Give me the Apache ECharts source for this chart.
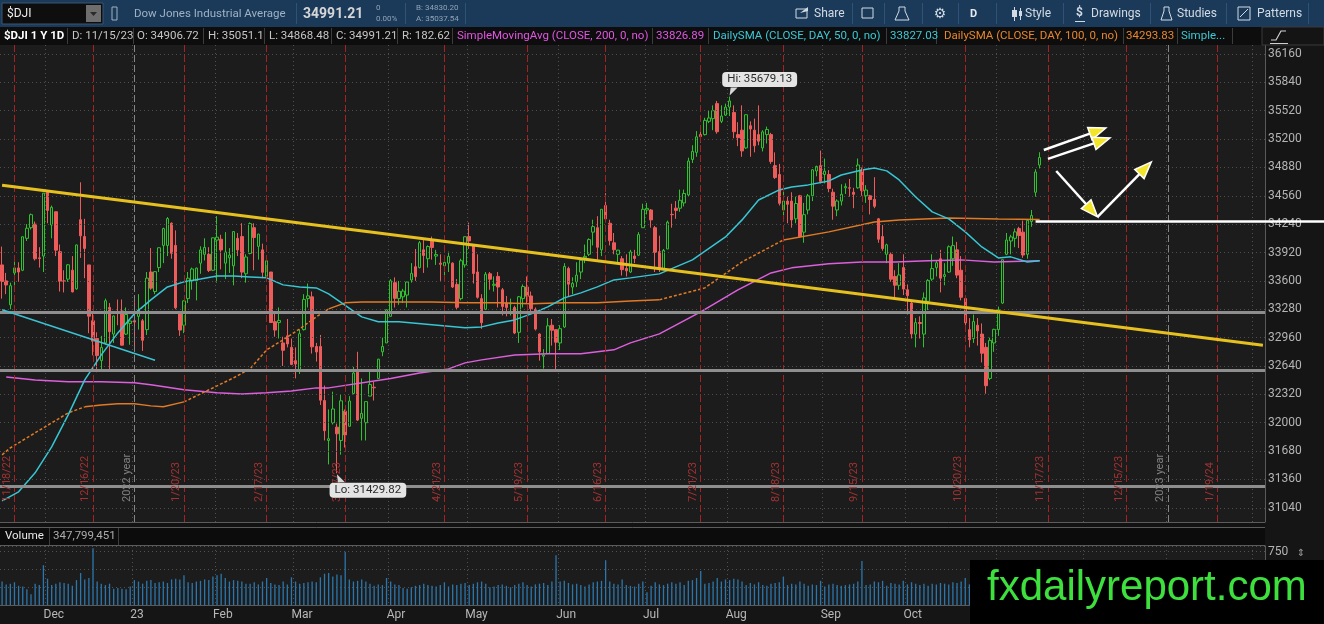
<!DOCTYPE html>
<html>
<head>
<meta charset="utf-8">
<title>$DJI 1 Y 1D</title>
<script src="https://cdn.jsdelivr.net/npm/echarts@6/dist/echarts.min.js"></script>
<style>
  html, body { margin: 0; padding: 0; background: #151515; }
  #chart { width: 1324px; height: 624px; }
</style>
</head>
<body>
<div id="chart"></div>
<script>
// ---- calendar ----
const holidays = ['11/24/22', '12/26/22', '1/2/23', '1/16/23', '2/20/23', '4/7/23', '5/29/23',
  '6/19/23', '7/4/23', '9/4/23', '11/23/23', '12/25/23', '1/1/24', '1/15/24'];
const MONTHS = ['Jan', 'Feb', 'Mar', 'Apr', 'May', 'Jun', 'Jul', 'Aug', 'Sep', 'Oct', 'Nov', 'Dec'];

// option expiration lines and year lines
const expirations = ['11/18/22', '12/16/22', '1/20/23', '2/17/23', '3/17/23', '4/21/23', '5/19/23',
  '6/16/23', '7/21/23', '8/18/23', '9/15/23', '10/20/23', '11/17/23', '12/15/23', '1/19/24'];
const yearLines = [['1/3/23', '2022 year'], ['1/2/24', '2023 year']];

// price axis labels
const priceTicks = [31040, 31360, 31680, 32000, 32320, 32640, 32960, 33280, 33600, 33920,
  34240, 34560, 34880, 35200, 35520, 35840, 36160];

// daily candles: [open, close, low, high]
const nov22 = [
  [33780, 33593, 33400, 33987], [33600, 33554, 33450, 33690], [33330, 33546, 33280, 33580],
  [33690, 33746, 33530, 33890], [33746, 33700, 33590, 33810], [33720, 34098, 33710, 34100],
  [34080, 34194, 34050, 34240], [34200, 34347, 34180, 34360], [34240, 33849, 33830, 34270],
  [33860, 33852, 33750, 33980], [33880, 34590, 33700, 34590]
];
const dec22 = [
  [34600, 34395, 34250, 34620], [34230, 34430, 34080, 34450], [34380, 33947, 33880, 34380],
  [33930, 33596, 33480, 34010], [33600, 33597, 33470, 33720], [33620, 33781, 33590, 33790],
  [33720, 33476, 33470, 33880], [33510, 34005, 33500, 34010], [34290, 34108, 33860, 34712],
  [34100, 33966, 33630, 34300], [33780, 33202, 33010, 33780], [33150, 32920, 32760, 33250],
  [32950, 32757, 32570, 33020], [32700, 32850, 32580, 32980], [32900, 33376, 32880, 33400],
  [33300, 33027, 32580, 33350], [33000, 33204, 32900, 33210], [33250, 33241, 33100, 33390],
  [33260, 32875, 32870, 33390], [33000, 33221, 32990, 33300], [33120, 33147, 32880, 33150]
];
const jan23 = [
  [33150, 33136, 32810, 33360], [33200, 33270, 33050, 33450], [33150, 32930, 32810, 33170],
  [33050, 33631, 32990, 33700], [33700, 33518, 33500, 33970], [33480, 33704, 33450, 33710],
  [33750, 33974, 33700, 33975], [34000, 34190, 33800, 34200], [34000, 34303, 33880, 34320],
  [34250, 33911, 33850, 34260], [34000, 33297, 33280, 34170], [33250, 33045, 32980, 33250],
  [33100, 33375, 33010, 33380], [33400, 33630, 33350, 33700], [33600, 33734, 33500, 33750],
  [33600, 33744, 33380, 33750], [33800, 33949, 33680, 33990], [33900, 33978, 33830, 34080],
  [33900, 33717, 33700, 33980], [33720, 34086, 33710, 34090]
];
const feb23 = [
  [34060, 34093, 33580, 34330], [34070, 33949, 33730, 34120], [33800, 33926, 33620, 34150],
  [33860, 33891, 33690, 33970], [33770, 34156, 33550, 34160], [34080, 33949, 33880, 34140],
  [34100, 33699, 33630, 34250], [33680, 33869, 33580, 33900], [33910, 34246, 33900, 34260],
  [34200, 34089, 33720, 34250], [33990, 34128, 33840, 34130], [33950, 33697, 33630, 34020],
  [33650, 33827, 33600, 33880], [33700, 33130, 33125, 33700], [33140, 33045, 32970, 33240],
  [33130, 33154, 32950, 33300], [32900, 32817, 32640, 32970], [32980, 32889, 32850, 33170],
  [32850, 32657, 32650, 32950]
];
const mar23 = [
  [32700, 32662, 32500, 32850], [32600, 33004, 32550, 33050], [33050, 33391, 33040, 33450],
  [33400, 33431, 33300, 33570], [33420, 32856, 32780, 33480], [32860, 32798, 32690, 32900],
  [32860, 32254, 32200, 32990], [32250, 31910, 31800, 32420], [31800, 31819, 31530, 32150],
  [32000, 32155, 31980, 32350], [31950, 31875, 31429.82, 31990], [31800, 32247, 31640, 32320],
  [32130, 31862, 31720, 32150], [31960, 32245, 31960, 32300], [32330, 32561, 32320, 32630],
  [32570, 32030, 32020, 32800], [32050, 32105, 31800, 32500], [32000, 32238, 31800, 32240],
  [32300, 32432, 32300, 32600], [32400, 32394, 32250, 32460], [32500, 32717, 32500, 32720],
  [32800, 32860, 32750, 32960], [32900, 33274, 32900, 33280]
];
const apr23 = [
  [33200, 33601, 33200, 33620], [33580, 33403, 33300, 33640], [33400, 33483, 33330, 33600],
  [33420, 33485, 33350, 33510], [33440, 33587, 33300, 33590], [33610, 33685, 33580, 33800],
  [33760, 33647, 33600, 33960], [33750, 34030, 33740, 34050], [33950, 33887, 33690, 34060],
  [33850, 33988, 33750, 34000], [34050, 33977, 33840, 34100], [33880, 33897, 33780, 33950],
  [33800, 33787, 33600, 33900], [33770, 33809, 33640, 33830], [33800, 33876, 33700, 33930],
  [33800, 33531, 33520, 33810], [33560, 33302, 33280, 33620], [33400, 33827, 33380, 33850],
  [33780, 34098, 33750, 34100]
];
const may23 = [
  [34100, 34051, 33960, 34257], [34000, 33684, 33570, 34010], [33700, 33415, 33400, 33900],
  [33400, 33128, 33060, 33450], [33280, 33675, 33270, 33700], [33680, 33619, 33500, 33700],
  [33550, 33562, 33480, 33650], [33650, 33531, 33300, 33700], [33500, 33310, 33210, 33520],
  [33350, 33301, 33200, 33430], [33340, 33349, 33210, 33400], [33300, 33012, 33000, 33320],
  [33020, 33421, 32900, 33430], [33400, 33536, 33300, 33560], [33530, 33427, 33340, 33650],
  [33430, 33287, 33260, 33480], [33280, 33056, 33040, 33300], [33000, 32800, 32700, 33010],
  [32750, 32765, 32610, 32830], [32780, 33093, 32780, 33180], [33100, 33043, 32870, 33170],
  [33050, 32908, 32600, 33050]
];
const jun23 = [
  [32900, 33061, 32820, 33100], [33080, 33763, 33070, 33800], [33740, 33563, 33420, 33760],
  [33530, 33573, 33450, 33640], [33590, 33665, 33530, 33810], [33700, 33834, 33620, 33860],
  [33860, 33877, 33800, 34010], [33900, 34066, 33880, 34080], [34150, 34212, 34000, 34290],
  [34200, 33979, 33840, 34330], [33950, 34408, 33880, 34410], [34450, 34299, 34260, 34590],
  [34250, 34054, 34000, 34290], [34030, 33952, 33900, 34140], [33900, 33947, 33790, 33950],
  [33850, 33727, 33660, 33880], [33740, 33714, 33650, 33900], [33700, 33927, 33690, 33950],
  [33880, 33853, 33800, 33950], [33890, 34122, 33880, 34150], [34200, 34408, 34200, 34470]
];
const jul23 = [
  [34400, 34418, 34350, 34480], [34400, 34288, 34200, 34410], [34200, 33922, 33700, 34220],
  [33930, 33735, 33700, 34110], [33740, 33944, 33720, 33960], [33960, 34262, 33960, 34280],
  [34350, 34347, 34200, 34470], [34420, 34395, 34300, 34500], [34420, 34509, 34380, 34630],
  [34480, 34586, 34440, 34630], [34570, 34952, 34550, 34990], [34970, 35061, 34930, 35130],
  [35050, 35225, 35000, 35290], [35250, 35228, 35160, 35350], [35250, 35411, 35240, 35440],
  [35400, 35438, 35380, 35520], [35430, 35520, 35300, 35580], [35600, 35283, 35260, 35630],
  [35400, 35459, 35380, 35580], [35470, 35560, 35460, 35600]
];
const aug23 = [
  [35560, 35630, 35460, 35679.13], [35500, 35283, 35210, 35580], [35250, 35216, 35120, 35390],
  [35300, 35066, 35000, 35580], [35100, 35474, 35090, 35480], [35350, 35314, 35000, 35400],
  [35300, 35124, 35050, 35430], [35250, 35176, 35130, 35580], [35100, 35281, 35060, 35300],
  [35250, 35308, 35150, 35340], [35250, 34946, 34920, 35270], [34900, 34766, 34750, 35050],
  [34800, 34475, 34450, 34920], [34400, 34501, 34320, 34620], [34500, 34464, 34250, 34550],
  [34500, 34288, 34200, 34600], [34300, 34473, 34250, 34550], [34560, 34099, 34090, 34570],
  [34150, 34347, 34030, 34480], [34400, 34560, 34350, 34580], [34560, 34853, 34500, 34860],
  [34840, 34891, 34780, 34900], [34900, 34722, 34700, 35070]
];
const sep23 = [
  [34800, 34838, 34700, 34980], [34800, 34642, 34600, 34850], [34600, 34443, 34290, 34640],
  [34400, 34501, 34330, 34520], [34500, 34577, 34450, 34690], [34650, 34664, 34580, 34700],
  [34650, 34646, 34550, 34750], [34600, 34576, 34420, 34650], [34650, 34907, 34640, 34980],
  [34850, 34618, 34560, 34880], [34560, 34625, 34480, 34680], [34560, 34518, 34350, 34570],
  [34520, 34441, 34420, 34770], [34300, 34070, 34030, 34310], [34100, 33964, 33940, 34230],
  [33900, 34007, 33800, 34020], [33900, 33619, 33590, 33920], [33650, 33551, 33400, 33720],
  [33550, 33667, 33500, 33800], [33750, 33508, 33440, 33900]
];
const oct23 = [
  [33500, 33433, 33220, 33560], [33350, 33002, 32950, 33380], [33000, 33129, 32850, 33180],
  [33130, 33120, 32950, 33200], [33000, 33408, 32850, 33470], [33370, 33605, 33270, 33620],
  [33620, 33739, 33600, 33900], [33750, 33804, 33650, 33830], [33850, 33631, 33470, 33950],
  [33650, 33670, 33550, 33800], [33700, 33985, 33690, 34000], [33850, 33998, 33770, 34100],
  [33950, 33665, 33630, 34040], [33720, 33415, 33380, 33880], [33400, 33127, 33100, 33420],
  [33050, 32936, 32850, 33180], [32950, 33141, 32900, 33220], [33100, 33036, 32870, 33180],
  [33000, 32784, 32680, 33120], [32850, 32418, 32327, 32900], [32500, 32929, 32480, 32960],
  [32900, 33053, 32800, 33060]
];
const nov23 = [
  [33050, 33275, 32980, 33310], [33350, 33839, 33340, 33840], [33900, 34061, 33890, 34140],
  [34050, 34096, 33900, 34120], [34080, 34153, 33980, 34190], [34190, 34112, 33970, 34210],
  [34150, 33892, 33860, 34280], [33900, 34283, 33850, 34290], [34270, 34337, 34210, 34400],
  [34600, 34828, 34550, 34860], [34906.72, 34991.21, 34868.48, 35051.1]
];

// daily volume, millions of shares
const volumeM = [
  330, 290, 300, 320, 270, 260, 220, 150, 300, 280, 560,
  370, 280, 300, 320, 310, 300, 270, 350, 450, 360, 380, 800, 330, 300, 280, 300, 230, 240, 230, 220, 260,
  350, 330, 300, 340, 350, 310, 320, 330, 310, 360, 370, 360, 420, 320, 310, 330, 340, 360, 350, 400,
  420, 440, 380, 330, 350, 340, 330, 300, 300, 320, 290, 330, 380, 310, 290, 280, 330, 290, 390,
  330, 300, 310, 320, 330, 320, 390, 440, 450, 400, 430, 420, 750, 360, 330, 340, 360, 330, 300, 270, 290, 280, 380,
  330, 290, 280, 240, 230, 250, 270, 280, 300, 280, 270, 260, 280, 320, 260, 290, 280, 300, 310,
  280, 300, 320, 330, 300, 250, 260, 280, 290, 270, 250, 280, 300, 320, 280, 260, 290, 300, 310, 280, 330, 700,
  330, 340, 310, 290, 300, 280, 260, 290, 320, 330, 340, 630, 330, 300, 290, 360, 280, 270, 260, 300, 330,
  180, 270, 320, 290, 280, 300, 320, 300, 320, 280, 340, 350, 380, 480, 300, 310, 330, 380, 330, 360,
  350, 370, 360, 330, 280, 310, 290, 320, 280, 270, 300, 310, 320, 400, 280, 300, 290, 330, 300, 270, 290, 280, 340,
  260, 290, 300, 280, 270, 280, 290, 300, 330, 620, 280, 290, 330, 320, 340, 270, 310, 300, 290, 340,
  290, 320, 300, 280, 300, 270, 300, 290, 310, 300, 290, 320, 310, 330, 380, 290, 300, 310, 330, 320, 300, 340,
  360, 340, 360, 300, 310, 320, 330, 290, 280, 360, 347.799451
];

// moving averages: [date, value]
const sma50 = [
  ['11/15/22', 31119], ['11/21/22', 31220], ['11/28/22', 31435], ['12/2/22', 31728], ['12/8/22', 32089],
  ['12/14/22', 32483], ['12/20/22', 32765], ['12/27/22', 33013], ['1/3/23', 33228], ['1/9/23', 33386],
  ['1/13/23', 33532], ['1/20/23', 33589], ['1/26/23', 33622], ['2/1/23', 33656], ['2/7/23', 33656],
  ['2/13/23', 33645], ['2/17/23', 33634], ['2/24/23', 33555], ['3/2/23', 33532], ['3/8/23', 33521],
  ['3/13/23', 33453], ['3/23/23', 33194], ['3/29/23', 33138], ['4/5/23', 33138], ['4/18/23', 33104],
  ['4/28/23', 33070], ['5/4/23', 33081], ['5/10/23', 33126], ['5/16/23', 33160], ['5/22/23', 33228],
  ['5/26/23', 33307], ['6/2/23', 33408], ['6/8/23', 33465], ['6/14/23', 33532], ['6/21/23', 33611],
  ['6/27/23', 33634], ['7/7/23', 33679], ['7/19/23', 33837], ['7/31/23', 34096], ['8/4/23', 34288],
  ['8/10/23', 34513], ['8/17/23', 34626], ['8/22/23', 34660], ['8/28/23', 34683], ['9/5/23', 34728],
  ['9/8/23', 34795], ['9/15/23', 34852], ['9/20/23', 34874], ['9/25/23', 34841], ['9/28/23', 34739],
  ['10/4/23', 34547], ['10/10/23', 34378], ['10/16/23', 34299], ['10/20/23', 34153], ['10/26/23', 33983],
  ['11/1/23', 33859], ['11/6/23', 33871], ['11/10/23', 33814], ['11/15/23', 33827.03]
];
const sma100 = [
  ['11/15/22', 31638], ['11/17/22', 31716], ['11/28/22', 31886], ['12/2/22', 31998], ['12/8/22', 32111],
  ['12/14/22', 32179], ['12/20/22', 32201], ['12/27/22', 32213], ['1/3/23', 32213], ['1/9/23', 32190],
  ['1/12/23', 32179], ['1/20/23', 32235], ['1/26/23', 32325], ['2/1/23', 32416], ['2/7/23', 32506],
  ['2/13/23', 32608], ['2/17/23', 32822], ['2/24/23', 32935], ['3/2/23', 33059], ['3/8/23', 33194],
  ['3/13/23', 33284], ['3/17/23', 33352], ['3/23/23', 33363], ['4/5/23', 33363], ['4/18/23', 33363],
  ['4/28/23', 33352], ['5/10/23', 33352], ['5/22/23', 33341], ['6/2/23', 33352], ['6/14/23', 33352],
  ['6/27/23', 33374], ['7/7/23', 33386], ['7/24/23', 33521], ['8/4/23', 33814], ['8/18/23', 34062],
  ['9/5/23', 34153], ['9/20/23', 34265], ['9/28/23', 34288], ['10/16/23', 34310], ['11/1/23', 34299],
  ['11/15/23', 34293.83]
];
const sma200 = [
  ['11/16/22', 32517], ['11/28/22', 32483], ['12/8/22', 32461], ['12/20/22', 32461], ['1/3/23', 32450],
  ['1/9/23', 32427], ['1/20/23', 32371], ['2/1/23', 32337], ['2/9/23', 32325], ['2/17/23', 32337],
  ['2/28/23', 32359], ['3/8/23', 32393], ['3/13/23', 32393], ['4/3/23', 32500], ['4/13/23', 32560],
  ['4/24/23', 32607], ['4/28/23', 32675], ['5/4/23', 32709], ['5/16/23', 32765], ['5/26/23', 32777],
  ['6/8/23', 32777], ['6/21/23', 32822], ['6/27/23', 32901], ['7/7/23', 33002], ['7/21/23', 33250],
  ['8/3/23', 33498], ['8/15/23', 33690], ['8/22/23', 33747], ['9/5/23', 33792], ['9/15/23', 33814],
  ['9/27/23', 33814], ['10/9/23', 33826], ['10/19/23', 33837], ['10/31/23', 33814], ['11/15/23', 33826.89]
];
// stretches where the 100-day line is drawn broken
const sma100Broken = [['11/15/22', '12/14/22'], ['1/20/23', '3/13/23'], ['7/7/23', '8/18/23']];

// hand drawings on the chart
const yellowTrend = [['11/15/22', 34679], ['2/5/24', 32874]];
const cyanTrend = [['11/15/22', 33275], ['1/10/23', 32705]];
const supportLevels = [33250, 32596, 31288];
const whiteLevel = [250, 34271];
const arrows = [
  [[252, 35077], [267, 35325]],
  [[253, 34976], [268, 35213]],
  [[255, 34840], [265, 34322]],
  [[265, 34322], [278, 34942]]
];

// ---- derived ----
function shortDate(d) {
  return (d.getMonth() + 1) + '/' + d.getDate() + '/' + String(d.getFullYear()).slice(2);
}
function tradingDays(start, end) {
  const out = [];
  for (const d = new Date(start); d <= end; d.setDate(d.getDate() + 1)) {
    const s = shortDate(d);
    if (d.getDay() !== 0 && d.getDay() !== 6 && holidays.indexOf(s) < 0) out.push(s);
  }
  return out;
}
const dates = tradingDays(new Date(2022, 10, 15), new Date(2024, 1, 5));
const monthStart = dates.map((d, i) => i > 0 && d.split('/')[0] !== dates[i - 1].split('/')[0]);
function monthLabel(d) {
  const p = d.split('/');
  return p[0] === '1' ? p[2] : MONTHS[+p[0] - 1];
}
const ohlc = [].concat(nov22, dec22, jan23, feb23, mar23, apr23, may23, jun23, jul23, aug23, sep23, oct23, nov23);
const last = ohlc[ohlc.length - 1];
const lastOf = (arr) => arr[arr.length - 1][1];
const pos = (d) => dates.indexOf(d);

// split the 100-day line into solid and broken pieces
const sma100Pieces = [];
(function () {
  let from = sma100[0][0];
  sma100Broken.forEach((r) => {
    if (pos(r[0]) > pos(from)) sma100Pieces.push({ from: from, to: r[0], broken: false });
    sma100Pieces.push({ from: r[0], to: r[1], broken: true });
    from = r[1];
  });
  sma100Pieces.push({ from: from, to: lastOf([[0, sma100[sma100.length - 1][0]]]), broken: false });
})();

const DOT = [1, 3];
const badge = (value, bg, fg) => ({
  yAxis: value,
  lineStyle: { opacity: 0 },
  label: {
    show: true, position: 'end', distance: 2, formatter: value.toFixed(2),
    backgroundColor: bg, color: fg, borderRadius: 3, padding: [2, 3, 1, 3], fontSize: 11.5
  }
});

const chart = echarts.init(document.getElementById('chart'));

const sma100Series = sma100Pieces.map((p, k) => ({
  name: 'SMA100', type: 'line', xAxisIndex: 0, yAxisIndex: 0, showSymbol: false, z: 4,
  data: sma100.filter((s) => pos(s[0]) >= pos(p.from) && pos(s[0]) <= pos(p.to)),
  lineStyle: { color: '#e07a26', width: 1.5, type: p.broken ? [3, 2] : 'solid' },
  markLine: k === sma100Pieces.length - 1
    ? { silent: true, symbol: 'none', animation: false, data: [badge(lastOf(sma100), '#f08a26', '#6a2600')] }
    : undefined
}));

const option = {
  animation: false,
  backgroundColor: '#151515',
  textStyle: { fontFamily: 'Roboto' },
  grid: [
    { left: 0, top: 45, width: 1265, height: 477, show: true, backgroundColor: '#1c1c1c', borderWidth: 0 },
    { left: 0, top: 546, width: 1265, height: 59, show: true, backgroundColor: '#1c1c1c', borderWidth: 0 }
  ],
  xAxis: [
    {
      type: 'category', gridIndex: 0, data: dates,
      axisLine: { show: false }, axisTick: { show: false }, axisLabel: { show: false },
      splitLine: { show: true, interval: (i) => monthStart[i], lineStyle: { color: '#505050', type: DOT } }
    },
    {
      type: 'category', gridIndex: 1, data: dates,
      axisLine: { show: true, lineStyle: { color: '#5a5a5a' } }, axisTick: { show: false },
      axisLabel: {
        interval: (i) => monthStart[i], formatter: monthLabel,
        color: '#b8b8b8', fontSize: 12, align: 'left', margin: 4, padding: [0, 0, 0, -4]
      },
      splitLine: { show: true, interval: (i) => monthStart[i], lineStyle: { color: '#505050', type: DOT } }
    }
  ],
  yAxis: [
    {
      type: 'value', gridIndex: 0, position: 'right', min: 30880, max: 36261, interval: 160,
      axisLine: { show: true, lineStyle: { color: '#5a5a5a' } }, axisTick: { show: false },
      splitLine: { show: false },
      axisLabel: {
        formatter: (v) => (priceTicks.indexOf(v) >= 0 ? String(v) : ''),
        color: '#b4b4b4', fontSize: 12, margin: 3
      }
    },
    {
      type: 'value', gridIndex: 1, position: 'right', min: 0, max: 830, interval: 250,
      axisLine: { show: true, lineStyle: { color: '#5a5a5a' } }, axisTick: { show: false },
      splitLine: { show: true, lineStyle: { color: '#505050', type: DOT } },
      axisLabel: { formatter: (v) => (v === 750 ? '750' : ''), color: '#b4b4b4', fontSize: 12, margin: 3 }
    }
  ],
  series: [
    {
      name: 'grid', type: 'line', xAxisIndex: 0, yAxisIndex: 0, data: [], z: 1, silent: true,
      markLine: {
        silent: true, symbol: 'none', animation: false,
        data: [].concat(
          priceTicks.map((v) => ({ yAxis: v, lineStyle: { color: '#4e4e4e', type: DOT, width: 1 }, label: { show: false } })),
          expirations.map((d) => ({
            xAxis: d, lineStyle: { color: '#a32222', type: [7, 3], width: 1 },
            label: { show: true, formatter: d, position: 'insideStartTop', color: '#a33232', fontSize: 11, distance: [20, 2] }
          })),
          yearLines.map((y) => ({
            xAxis: y[0], lineStyle: { color: '#858585', type: [7, 3], width: 1 },
            label: { show: true, formatter: y[1], position: 'insideStartTop', color: '#808080', fontSize: 11, distance: [20, 2] }
          }))
        )
      }
    },
    {
      name: 'Price', type: 'candlestick', xAxisIndex: 0, yAxisIndex: 0, data: ohlc, barWidth: 3, z: 3,
      itemStyle: { color: '#1c1c1c', color0: '#ee5b5b', borderColor: '#2fc22f', borderColor0: '#ee5b5b', borderWidth: 1 },
      markPoint: {
        symbol: 'circle', symbolSize: 1, silent: true, animation: false,
        itemStyle: { color: 'rgba(0,0,0,0)' },
        label: {
          show: true, color: '#2a2a2a', fontSize: 11.5, backgroundColor: '#e4e4e4',
          borderRadius: 4, padding: [2, 5, 1, 5]
        },
        data: [
          { type: 'max', valueDim: 'highest', label: { formatter: (p) => 'Hi: ' + p.value.toFixed(2), offset: [30, -17] } },
          { type: 'min', valueDim: 'lowest', label: { formatter: (p) => 'Lo: ' + p.value.toFixed(2), offset: [31, 17] } }
        ]
      },
      markLine: { silent: true, symbol: 'none', animation: false, data: [badge(last[1], '#1bb41b', '#ffffff')] }
    },
    {
      name: 'SMA200', type: 'line', xAxisIndex: 0, yAxisIndex: 0, data: sma200, showSymbol: false, z: 4,
      lineStyle: { color: '#dd5fdd', width: 1.5 },
      markLine: { silent: true, symbol: 'none', animation: false, data: [badge(lastOf(sma200), '#e466e4', '#4a0a4a')] }
    }
  ].concat(sma100Series, [
    {
      name: 'SMA50', type: 'line', xAxisIndex: 0, yAxisIndex: 0, data: sma50, showSymbol: false, z: 4,
      lineStyle: { color: '#37c6d4', width: 1.5 }
    },
    {
      name: 'cyanTrend', type: 'line', xAxisIndex: 0, yAxisIndex: 0, data: cyanTrend, showSymbol: false, z: 5,
      lineStyle: { color: '#3bc3d3', width: 1.5 },
      markLine: {
        silent: true, symbol: 'none', animation: false,
        data: supportLevels.map((v) => ({ yAxis: v, lineStyle: { color: '#8e8e8e', width: 3, type: 'solid' }, label: { show: false } }))
      }
    },
    {
      name: 'yellowTrend', type: 'line', xAxisIndex: 0, yAxisIndex: 0, data: yellowTrend, showSymbol: false, z: 6,
      lineStyle: { color: '#e6c01e', width: 3 }
    },
    {
      name: 'Volume', type: 'bar', xAxisIndex: 1, yAxisIndex: 1, data: volumeM, barWidth: 1.3, z: 3,
      itemStyle: { color: '#2b77ad' }
    }
  ])
};

chart.setOption(option);

// ---- chrome and drawings ----
const FONT = '11.5px Roboto';
const rect = (x, y, w, h, fill, stroke) => ({
  type: 'rect', z: 100, silent: true, shape: { x: x, y: y, width: w, height: h },
  style: { fill: fill || 'none', stroke: stroke || null, lineWidth: 1 }
});
const text = (x, y, t, fill, font, align) => ({
  type: 'text', z: 102, silent: true, x: x, y: y,
  style: { text: t, fill: fill, font: font || FONT, align: align || 'left', verticalAlign: 'middle' }
});
const line = (x1, y1, x2, y2, stroke, w) => ({
  type: 'line', z: 101, silent: true, shape: { x1: x1, y1: y1, x2: x2, y2: y2 },
  style: { stroke: stroke, lineWidth: w || 1 }
});
const poly = (pts, fill, stroke, w) => ({
  type: 'polygon', z: 103, silent: true, shape: { points: pts },
  style: { fill: fill || 'none', stroke: stroke || null, lineWidth: w || 1 }
});

const els = [];
// toolbar
const TB = '#d2dbe4';
els.push(rect(0, 0, 1324, 27, '#1b3a5a'));
els.push(rect(2, 3, 101, 21, '#0e0e0e', '#3a5470'));
els.push(text(7, 14, '$DJI', '#ececec', '12px Roboto'));
els.push(rect(86, 5, 15, 17, '#6e6e6e'));
els.push(poly([[90, 12], [97, 12], [93.5, 16]], '#2a2a2a'));
els.push(rect(112, 7, 5, 13, null, '#9fb0c0'));
els.push(text(134, 14, 'Dow Jones Industrial Average', '#9fb2c4', '11.5px Roboto'));
els.push(text(303, 14, last[1].toFixed(2), '#d6d6d6', 'bold 14px Roboto'));
els.push(text(376, 8, '0', '#8fa3b5', '8px Roboto'));
els.push(text(376, 19, '0.00%', '#8fa3b5', '8px Roboto'));
els.push(text(416, 8, 'B: 34830.20', '#8fa3b5', '8px Roboto'));
els.push(text(416, 19, 'A: 35037.54', '#8fa3b5', '8px Roboto'));
[296, 405, 465, 852, 884, 922, 958, 996, 1063, 1150, 1226, 1308].forEach((x) => els.push(line(x + 0.5, 3, x + 0.5, 24, '#2f5376')));
els.push(rect(796, 9, 11, 9, null, TB));
els.push(poly([[800, 13], [808, 7], [808, 11]], TB));
els.push(text(814, 14, 'Share', TB, '12px Roboto'));
els.push(rect(862, 8, 11, 10, null, TB));
els.push(poly([[899, 7], [905, 7], [905, 11], [909, 20], [895, 20], [899, 11]], null, TB));
els.push(text(940, 14, '\u2699', TB, '14px "DejaVu Sans"', 'center'));
els.push(text(970, 14, 'D', '#e4eaf0', 'bold 11px Roboto'));
els.push(line(1014.5, 7, 1014.5, 21, TB));
els.push(rect(1012, 10, 5, 7, TB));
els.push(line(1020.5, 8, 1020.5, 20, TB));
els.push(rect(1019, 11, 3, 5, TB));
els.push(text(1025, 14, 'Style', TB, '12px Roboto'));
els.push(text(1076, 13, '$', TB, 'bold 12px Roboto'));
els.push(line(1075, 21.5, 1085, 21.5, TB));
els.push(text(1091, 14, 'Drawings', TB, '12px Roboto'));
els.push(poly([[1164, 7], [1169, 7], [1169, 11], [1172, 20], [1161, 20], [1164, 11]], null, TB));
els.push(text(1177, 14, 'Studies', TB, '12px Roboto'));
els.push(rect(1238, 7, 12, 13, null, TB));
els.push(line(1240, 17, 1248, 9, TB));
els.push(text(1257, 14, 'Patterns', TB, '12px Roboto'));

// study info bar
els.push(rect(0, 27, 1324, 18, '#0d0d0d'));
[67, 133, 203, 264, 331, 397, 452, 652, 708, 886, 936, 1123, 1177, 1232].forEach((x) => els.push(line(x + 0.5, 28, x + 0.5, 44, '#3c3c3c')));
const INFO = '#c6c6c6', MAG = '#e256e2', CYA = '#3cc8d6', ORA = '#e8862e';
els.push(text(4, 36, '$DJI 1 Y 1D', '#ffffff', 'bold 11.5px Roboto'));
els.push(text(72, 36, 'D: 11/15/23', INFO));
els.push(text(137, 36, 'O: ' + last[0].toFixed(2), INFO));
els.push(text(208, 36, 'H: ' + last[3], INFO));
els.push(text(269, 36, 'L: ' + last[2].toFixed(2), INFO));
els.push(text(336, 36, 'C: ' + last[1].toFixed(2), INFO));
els.push(text(402, 36, 'R: ' + (last[3] - last[2]).toFixed(2), INFO));
els.push(text(457, 36, 'SimpleMovingAvg (CLOSE, 200, 0, no)', MAG));
els.push(text(656, 36, lastOf(sma200).toFixed(2), MAG));
els.push(text(713, 36, 'DailySMA (CLOSE, DAY, 50, 0, no)', CYA));
els.push(text(890, 36, lastOf(sma50).toFixed(2), CYA));
els.push(text(944, 36, 'DailySMA (CLOSE, DAY, 100, 0, no)', ORA));
els.push(text(1126, 36, lastOf(sma100).toFixed(2), ORA));
els.push(text(1181, 36, 'Simple...', CYA));
els.push(rect(1262, 27, 62, 18, '#141414', '#3a3a3a'));
els.push({ type: 'polyline', z: 103, silent: true, shape: { points: [[1271, 40], [1276, 40], [1281, 31], [1286, 31]] }, style: { stroke: '#d0d0d0', lineWidth: 1.2, fill: 'none' } });
els.push(line(1270, 43.5, 1288, 43.5, '#d0d0d0'));

// panel separators and volume header
els.push(rect(0, 523, 1265, 4, '#121212'));
els.push(line(0, 522.5, 1265, 522.5, '#5c5c5c'));
els.push(line(0, 527.5, 1265, 527.5, '#5c5c5c'));
els.push(rect(0, 528, 1265, 17, '#0c0c0c'));
els.push(line(0, 545.5, 1265, 545.5, '#5c5c5c'));
els.push(text(5, 536.5, 'Volume', '#e8e8e8', '11.5px Roboto'));
els.push(line(49.5, 528, 49.5, 545, '#3c3c3c'));
els.push(text(53, 536.5, '347,799,451', '#acacac', '11.5px Roboto'));
els.push(line(118.5, 528, 118.5, 545, '#3c3c3c'));
els.push(text(1301, 553, '\u21D5', '#9a9a9a', '10px "DejaVu Sans"', 'center'));

// drawings in price coordinates
const px = (i, v) => chart.convertToPixel({ gridIndex: 0 }, [i, v]);
const wl = px(whiteLevel[0], whiteLevel[1]);
els.push(line(wl[0], wl[1], 1324, wl[1], '#ffffff', 2.5));
arrows.forEach((a) => {
  const p0 = px(a[0][0], a[0][1]), p1 = px(a[1][0], a[1][1]);
  const dx = p1[0] - p0[0], dy = p1[1] - p0[1], len = Math.sqrt(dx * dx + dy * dy);
  const ux = dx / len, uy = dy / len, nx = -uy, ny = ux;
  const bx = p1[0] - ux * 17, by = p1[1] - uy * 17;
  els.push(line(p0[0], p0[1], bx, by, '#ffffff', 2.5));
  els.push(poly([[p1[0], p1[1]], [bx + nx * 6.5, by + ny * 6.5], [bx - nx * 6.5, by - ny * 6.5]], '#f3e52a', '#ffffff', 1.5));
});
// callout pointers for the Hi / Lo tags
const hiIdx = ohlc.findIndex((r) => r[3] === 35679.13);
const loIdx = ohlc.findIndex((r) => r[2] === 31429.82);
const hp = px(hiIdx, ohlc[hiIdx][3]);
const lp = px(loIdx, ohlc[loIdx][2]);
els.push(poly([[hp[0], hp[1] - 1], [hp[0] + 1, hp[1] - 9], [hp[0] + 8, hp[1] - 9]], '#d8d8d8'));
els.push(poly([[lp[0], lp[1] + 1], [lp[0] + 1, lp[1] + 9], [lp[0] + 8, lp[1] + 9]], '#d8d8d8'));

// watermark
els.push(rect(970, 560, 354, 64, '#000000'));
els.push(text(987, 588, 'fxdailyreport.com', '#3de03d', '42px "Liberation Sans", Arial, sans-serif'));

chart.setOption({ graphic: { elements: els } });
</script>
</body>
</html>
